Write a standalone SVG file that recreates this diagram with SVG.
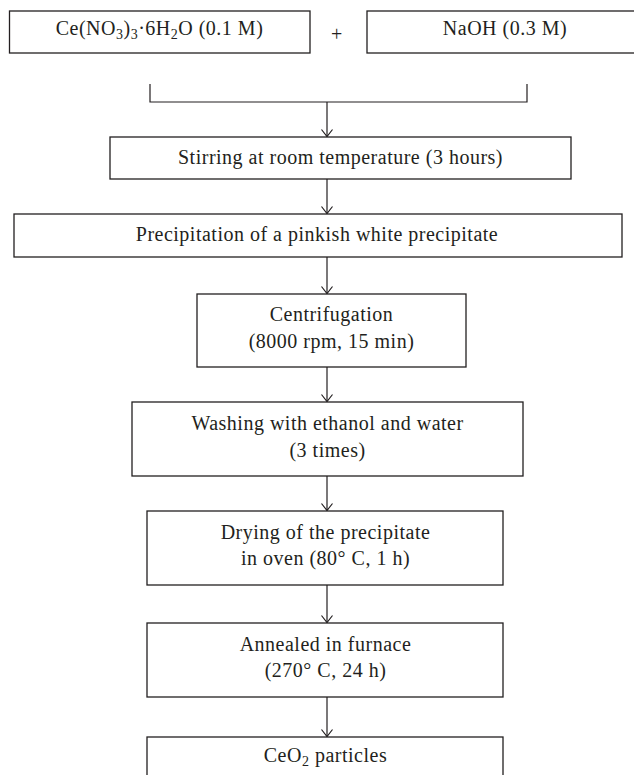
<svg xmlns="http://www.w3.org/2000/svg" width="634" height="775" viewBox="0 0 634 775">
<style>
rect.b{fill:#fff;stroke:#231f20;stroke-width:1.3}
text{font-family:"Liberation Serif","Times New Roman",serif;font-size:20px;fill:#231f20;text-anchor:middle;letter-spacing:0.5px}
.c line,.c path{stroke:#231f20;stroke-width:1.2;fill:none}
.sub{font-size:14px}
</style>
<defs>
<marker id="ah" viewBox="-8 -7 9 14" refX="0" refY="0" markerWidth="9" markerHeight="14" markerUnits="userSpaceOnUse" orient="auto" overflow="visible">
<path d="M-7,-5.5 L0,0 L-7,5.5" fill="none" stroke="#231f20" stroke-width="1.2"/>
</marker>
</defs>
<rect width="634" height="775" fill="#fff"/>
<g class="c" id="connectors">
<path d="M150,84 V102 H527 V84"/>
<line x1="327" y1="102" x2="327" y2="136.5" marker-end="url(#ah)"/>
<line x1="327" y1="179" x2="327" y2="213.5" marker-end="url(#ah)"/>
<line x1="327" y1="257" x2="327" y2="293.5" marker-end="url(#ah)"/>
<line x1="327" y1="367" x2="327" y2="401.5" marker-end="url(#ah)"/>
<line x1="327" y1="476" x2="327" y2="510.5" marker-end="url(#ah)"/>
<line x1="327" y1="585" x2="327" y2="622.5" marker-end="url(#ah)"/>
<line x1="327" y1="697" x2="327" y2="736.5" marker-end="url(#ah)"/>
</g>
<g id="n-ce">
<rect class="b" x="9.5" y="11" width="300.5" height="42"/>
<text x="159.5" y="35">Ce(NO<tspan class="sub" dy="4">3</tspan><tspan dy="-4">)</tspan><tspan class="sub" dy="4">3</tspan><tspan dy="-4">·6H</tspan><tspan class="sub" dy="4">2</tspan><tspan dy="-4">O (0.1 M)</tspan></text>
</g>
<g id="plus"><text x="337" y="41">+</text></g>
<g id="n-naoh">
<rect class="b" x="367" y="11" width="280" height="42"/>
<text x="505" y="35">NaOH (0.3 M)</text>
</g>
<g id="n-stir">
<rect class="b" x="110" y="137" width="461" height="42"/>
<text x="340.5" y="163.5">Stirring at room temperature (3 hours)</text>
</g>
<g id="n-precip">
<rect class="b" x="14" y="214" width="608" height="43"/>
<text x="317" y="241">Precipitation of a pinkish white precipitate</text>
</g>
<g id="n-centri">
<rect class="b" x="197" y="294" width="269" height="73"/>
<text x="331.5" y="321">Centrifugation</text>
<text x="331.5" y="348">(8000 rpm, 15 min)</text>
</g>
<g id="n-wash">
<rect class="b" x="132" y="402" width="391" height="74"/>
<text x="327.5" y="430">Washing with ethanol and water</text>
<text x="327.5" y="456.5">(3 times)</text>
</g>
<g id="n-dry">
<rect class="b" x="147" y="511" width="356" height="74"/>
<text x="325.5" y="538.5">Drying of the precipitate</text>
<text x="325.5" y="565">in oven (80° C, 1 h)</text>
</g>
<g id="n-anneal">
<rect class="b" x="147" y="623" width="356" height="74"/>
<text x="325.5" y="650.5">Annealed in furnace</text>
<text x="325.5" y="677">(270° C, 24 h)</text>
</g>
<g id="n-ceo2">
<rect class="b" x="147" y="737" width="356" height="60"/>
<text x="325.5" y="762">CeO<tspan class="sub" dy="4">2</tspan><tspan dy="-4"> particles</tspan></text>
</g>
</svg>
